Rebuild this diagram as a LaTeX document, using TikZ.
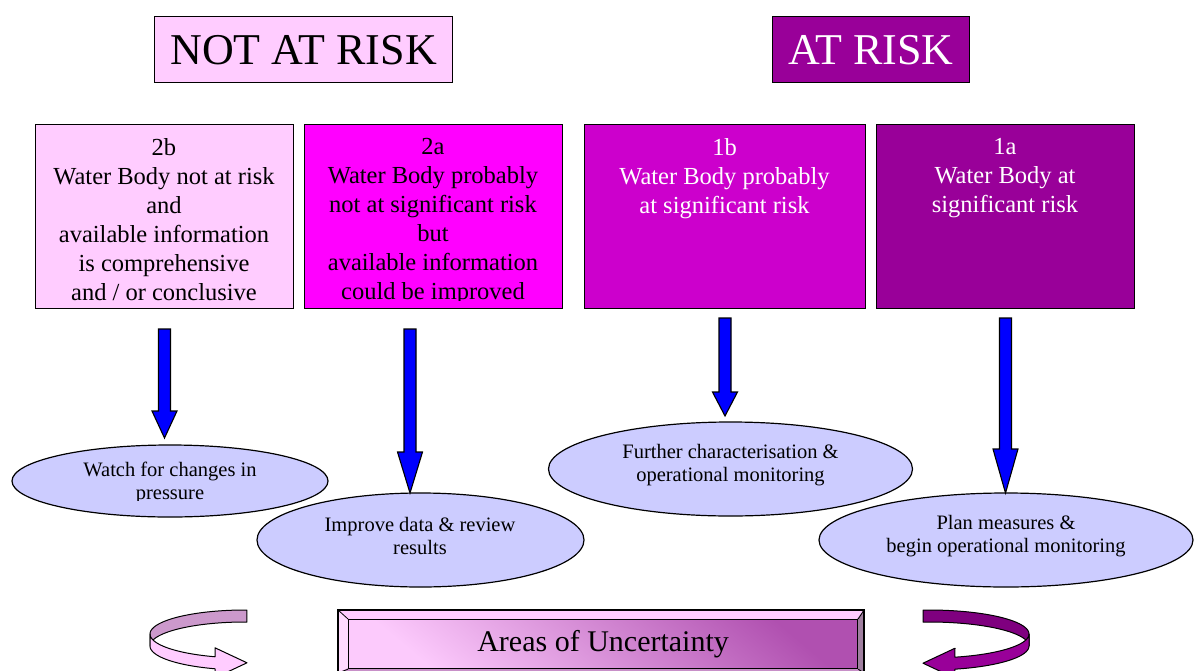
\documentclass[tikz,border=0pt]{standalone}
\usepackage{fontspec}
\setmainfont{Liberation Serif}
\usetikzlibrary{shapes.geometric,calc}
\definecolor{pinkL}{HTML}{FFCCFF}
\definecolor{magL}{HTML}{FF00FF}
\definecolor{magM}{HTML}{CC00CC}
\definecolor{purp}{HTML}{990099}
\definecolor{purpD}{HTML}{7F007F}
\definecolor{lav}{HTML}{CCCCFF}
\definecolor{pinkD}{HTML}{CC99CC}
\definecolor{bevR}{HTML}{A07FA0}
\definecolor{bevB}{HTML}{C890C8}
\definecolor{faceR}{HTML}{B050B0}
\definecolor{faceL}{HTML}{FCCAFC}
\newcommand{\bluearrow}[3]{\draw[barrow] ($(#1)+(-6,0)$) -- ($(#2)+(-6,-#3)$) -- ($(#2)+(-12.5,-#3)$) -- (#2) -- ($(#2)+(12.5,-#3)$) -- ($(#2)+(6,-#3)$) -- ($(#1)+(6,0)$) -- cycle;}
\begin{document}
\begin{tikzpicture}[x=1pt,y=-1pt,
  box/.style={draw=black, line width=1.3pt, anchor=north west, inner sep=0pt},
  titlebox/.style={box, font=\fontsize{44}{50}\selectfont},
  btext/.style={anchor=north, inner sep=0pt, align=center, font=\fontsize{24.5}{29}\selectfont},
  oval/.style={ellipse, draw=black, line width=1.2pt, fill=lav, inner sep=0pt},
  etext/.style={inner sep=0pt, align=center, font=\fontsize{20.5}{22.5}\selectfont},
  barrow/.style={draw=black, line width=1.1pt, fill=blue, line join=miter},
  rib/.style={draw=black, line width=1pt, line join=round},
]
\useasboundingbox (0,0) rectangle (1195,670);

% titles
\node[titlebox, fill=pinkL, minimum width=298pt, minimum height=66pt] (nr) at (154,16) {NOT AT RISK};
\node[titlebox, fill=purp, text=white, minimum width=197pt, minimum height=66pt] (ar) at (772,16) {AT RISK};

% category boxes
\node[box, fill=pinkL, minimum width=258pt, minimum height=184pt] (b2b) at (35,124) {};
\node[box, fill=magL, minimum width=258pt, minimum height=184pt] (b2a) at (304,124) {};
\node[box, fill=magM, minimum width=281pt, minimum height=184pt] (b1b) at (584,124) {};
\node[box, fill=purp, minimum width=258pt, minimum height=184pt] (b1a) at (876,124) {};

\begin{scope}
\clip (0,124) rectangle (600,300.5);
\node[btext] (t2b) at (164,138) {2b\\Water Body not at risk\\and\\available information\\is comprehensive\\and / or conclusive};
\node[btext] (t2a) at (433,138) {2a\\Water Body probably\\not at significant risk\\but\\available information\\could be improved};
\end{scope}
\node[btext, text=white] (t1b) at (724.5,138) {1b\\Water Body probably\\at significant risk};
\node[btext, text=white] (t1a) at (1005,138) {1a\\Water Body at\\significant risk};

% ellipses
\node[oval, minimum width=316pt, minimum height=72pt] (e1) at (170,481) {};
\node[oval, minimum width=327pt, minimum height=94pt] (e2) at (420.5,540) {};
\node[oval, minimum width=364pt, minimum height=94pt] (e3) at (730.5,469) {};
\node[oval, minimum width=374pt, minimum height=94pt] (e4) at (1006,540) {};

\begin{scope}
\clip (0,440) rectangle (400,500.5);
\node[etext] (e1t) at (170,483) {Watch for changes in\\pressure};
\end{scope}
\node[etext] (e2t) at (420,536) {Improve data \& review\\results};
\node[etext] (e3t) at (730.5,465) {Further characterisation \&\\operational monitoring};
\node[etext] (e4t) at (1006,536) {Plan measures \&\\begin operational monitoring};

% blue arrows
\coordinate (a1s) at (164.5,329); \coordinate (a1e) at (164.5,438);
\coordinate (a2s) at (410,329);   \coordinate (a2e) at (410,493);
\coordinate (a3s) at (725,318);   \coordinate (a3e) at (725,416);
\coordinate (a4s) at (1005.5,318);\coordinate (a4e) at (1005.5,493);
\bluearrow{a1s}{a1e}{27}
\bluearrow{a2s}{a2e}{41}
\bluearrow{a3s}{a3e}{24}
\bluearrow{a4s}{a4e}{44}

% Areas of Uncertainty bevelled box
\fill[pinkL] (338,610) -- (864,610) -- (857,619) -- (348,619) -- cycle;
\fill[pinkL!70!white] (338,610) -- (348,619) -- (348,668) -- (338,673) -- cycle;
\fill[bevR] (864,610) -- (864,673) -- (857,668) -- (857,619) -- cycle;
\fill[bevB] (338,673) -- (348,668) -- (857,668) -- (864,673) -- cycle;
\node[anchor=north west, inner sep=0pt, minimum width=509pt, minimum height=49pt,
      left color=faceL, right color=faceR, shading angle=140, draw=black, line width=1.2pt,
      font=\fontsize{30}{36}\selectfont] (unc) at (348,619) {Areas of Uncertainty};
\draw[line width=1.2pt] (338,610) rectangle (864,673);
\draw[line width=0.8pt] (338,610) -- (unc.north west) (864,610) -- (unc.north east)
  (338,673) -- (unc.south west) (864,673) -- (unc.south east);

% left curved arrow
\draw[rib, fill=pinkD]
  plot[domain=88.8:180, samples=30, variable=\t] ({245+95*cos(\t)},{634-24*sin(\t)})
  -- plot[domain=180:88.8, samples=30, variable=\t] ({245+95*cos(\t)},{646-24*sin(\t)})
  -- cycle;
\draw[rib, fill=pinkL]
  plot[domain=180:251.6, samples=30, variable=\t] ({245+95*cos(\t)},{634-24*sin(\t)})
  -- (215,647.8) -- (247,662.8) -- (215,677.8)
  -- plot[domain=251.6:180, samples=30, variable=\t] ({245+95*cos(\t)},{646-24*sin(\t)})
  -- cycle;

% right curved arrow
\draw[rib, fill=purpD]
  plot[domain=86.6:180, samples=30, variable=\t] ({929-100*cos(\t)},{634-24*sin(\t)})
  -- plot[domain=180:86.6, samples=30, variable=\t] ({929-100*cos(\t)},{646-24*sin(\t)})
  -- cycle;
\draw[rib, fill=purp]
  plot[domain=180:255, samples=30, variable=\t] ({929-100*cos(\t)},{634-24*sin(\t)})
  -- (955,648.2) -- (923,663.2) -- (955,678.2)
  -- plot[domain=255:180, samples=30, variable=\t] ({929-100*cos(\t)},{646-24*sin(\t)})
  -- cycle;
\end{tikzpicture}
\end{document}
